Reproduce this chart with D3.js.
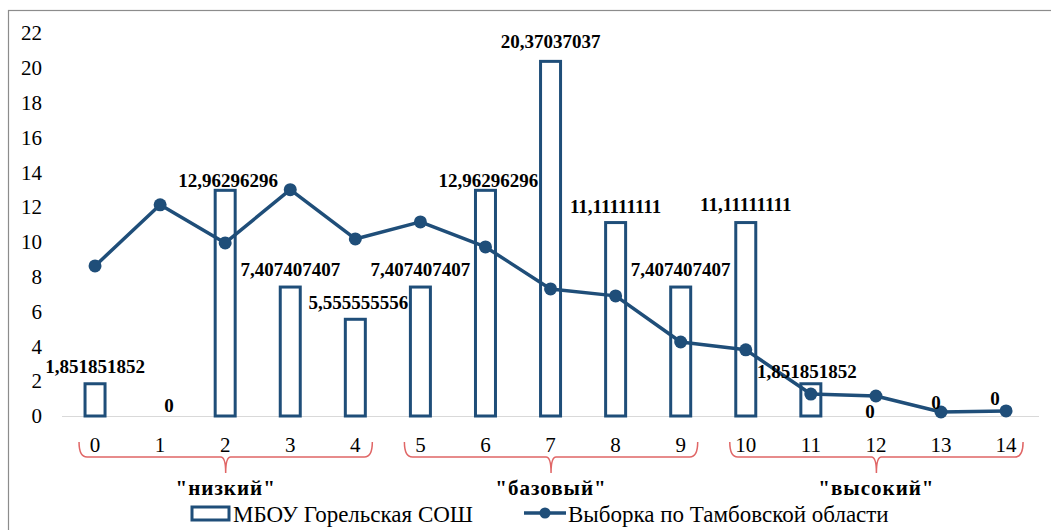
<!DOCTYPE html>
<html>
<head>
<meta charset="utf-8">
<script src="https://cdn.jsdelivr.net/npm/d3@7"></script>
<style>
  body { margin: 0; background: #fff; }
  svg { display: block; }
</style>
</head>
<body>
<svg id="chart" width="1051" height="530"></svg>
<script>
// categories and values
var categories = ["0", "1", "2", "3", "4", "5", "6", "7", "8", "9", "10", "11", "12", "13", "14"];
var schoolValues = [1.851851852, 0, 12.96296296, 7.407407407, 5.555555556, 7.407407407, 12.96296296,
    20.37037037, 11.11111111, 7.407407407, 11.11111111, 1.851851852, 0, 0, 0];
var regionValues = [8.62, 12.13, 9.94, 13.0, 10.17, 11.15, 9.71, 7.3, 6.9, 4.25, 3.8, 1.26, 1.15, 0.23, 0.29];
var yTicks = [0, 2, 4, 6, 8, 10, 12, 14, 16, 18, 20, 22];
var groups = [
    {name: '"низкий"', from: "0", to: "4"},
    {name: '"базовый"', from: "5", to: "9"},
    {name: '"высокий"', from: "10", to: "14"}
];
var seriesNames = ["МБОУ Горельская СОШ", "Выборка по Тамбовской области"];

// small nudges so labels sit like in the original
var labelNudge = [[0, -11], [9, -4], [3, -3], [0, -11], [3, -10], [0, -11], [3, -3], [0, -13],
    [0, -10], [0, -11], [0, -12], [-4, -6], [-6, 2], [-5, -7], [-11, -11]];

var blue = "#1f4e79";
var red = "#e06666";
var FONT = "serif";

var svg = d3.select("#chart");

// outer frame (only top/left visible)
svg.append("rect")
    .attr("x", 8.5).attr("y", 10.5)
    .attr("width", 1100).attr("height", 600)
    .attr("fill", "none")
    .attr("stroke", "#8c8c8c")
    .attr("stroke-width", 1.2);

var x = d3.scaleBand().domain(categories).range([62.5, 1038.6]).padding(0);
var y = d3.scaleLinear().domain([0, 22]).range([416, 33]);
var barW = 20;

// y axis
var yAxis = svg.append("g")
    .attr("transform", "translate(62,0)")
    .call(d3.axisLeft(y).tickValues(yTicks).tickSize(0).tickPadding(20));
yAxis.attr("font-family", FONT).attr("font-size", 21);
yAxis.select(".domain").remove();
yAxis.selectAll("text").attr("fill", "#000");

// baseline
svg.append("line")
    .attr("x1", 62).attr("x2", 1039)
    .attr("y1", y(0) + 0.5).attr("y2", y(0) + 0.5)
    .attr("stroke", "#d9d9d9")
    .attr("stroke-width", 1.2);

// x axis
var xAxis = svg.append("g")
    .attr("transform", "translate(0," + y(0) + ")")
    .call(d3.axisBottom(x).tickSize(0).tickPadding(21));
xAxis.attr("font-family", FONT).attr("font-size", 21);
xAxis.select(".domain").remove();
xAxis.selectAll("text").attr("fill", "#000");

// bars
svg.append("g").selectAll("rect")
    .data(schoolValues)
    .enter()
    .append("rect")
    .attr("x", function (d, i) { return x(categories[i]) + x.bandwidth() / 2 - barW / 2; })
    .attr("y", function (d) { return y(d); })
    .attr("width", barW)
    .attr("height", function (d) { return y(0) - y(d); })
    .attr("fill", "#fff")
    .attr("stroke", blue)
    .attr("stroke-width", 3)
    .style("display", function (d) { return d > 0 ? null : "none"; });

// line
var line = d3.line()
    .x(function (d, i) { return x(categories[i]) + x.bandwidth() / 2; })
    .y(function (d) { return y(d); });

svg.append("path")
    .datum(regionValues)
    .attr("d", line)
    .attr("fill", "none")
    .attr("stroke", blue)
    .attr("stroke-width", 3.5)
    .attr("stroke-linejoin", "round");

svg.append("g").selectAll("circle")
    .data(regionValues)
    .enter()
    .append("circle")
    .attr("cx", function (d, i) { return x(categories[i]) + x.bandwidth() / 2; })
    .attr("cy", function (d) { return y(d); })
    .attr("r", 6.5)
    .attr("fill", blue);

// data labels of the bars
svg.append("g").selectAll("text")
    .data(schoolValues)
    .enter()
    .append("text")
    .attr("x", function (d, i) { return x(categories[i]) + x.bandwidth() / 2 + labelNudge[i][0]; })
    .attr("y", function (d, i) { return y(d) + labelNudge[i][1]; })
    .attr("text-anchor", "middle")
    .attr("font-family", FONT)
    .attr("font-size", 19)
    .attr("font-weight", "bold")
    .text(function (d) {
        return d === 0 ? "0" : String(d).replace(".", ",");
    });

// braces under the groups
var braceTop = 442, braceMid = 457, braceTip = 473;
groups.forEach(function (g) {
    var x1 = x(g.from) + x.bandwidth() / 2 - 16;
    var x2 = x(g.to) + x.bandwidth() / 2 + 17;
    var xm = (x1 + x2) / 2;
    var p = d3.path();
    p.moveTo(x1, braceTop);
    p.quadraticCurveTo(x1, braceMid, x1 + 8, braceMid);
    p.lineTo(xm - 5, braceMid);
    p.quadraticCurveTo(xm, braceMid, xm, braceTip);
    p.quadraticCurveTo(xm, braceMid, xm + 5, braceMid);
    p.lineTo(x2 - 8, braceMid);
    p.quadraticCurveTo(x2, braceMid, x2, braceTop);
    svg.append("path")
        .attr("d", p.toString())
        .attr("fill", "none")
        .attr("stroke", red)
        .attr("stroke-width", 1.5);

    svg.append("text")
        .attr("x", xm)
        .attr("y", 495)
        .attr("text-anchor", "middle")
        .attr("font-family", FONT)
        .attr("font-size", 21)
        .attr("font-weight", "bold")
        .attr("letter-spacing", 1)
        .text(g.name);
});

// legend
var legend = svg.append("g");
legend.append("rect")
    .attr("x", 192).attr("y", 507)
    .attr("width", 37).attr("height", 13)
    .attr("fill", "#fff")
    .attr("stroke", blue)
    .attr("stroke-width", 3);
legend.append("text")
    .attr("x", 233).attr("y", 522)
    .attr("font-family", FONT)
    .attr("font-size", 23)
    .text(seriesNames[0]);
legend.append("line")
    .attr("x1", 524).attr("x2", 566)
    .attr("y1", 513).attr("y2", 513)
    .attr("stroke", blue)
    .attr("stroke-width", 3.5);
legend.append("circle")
    .attr("cx", 545).attr("cy", 513).attr("r", 5.5)
    .attr("fill", blue);
legend.append("text")
    .attr("x", 568).attr("y", 522)
    .attr("font-family", FONT)
    .attr("font-size", 23)
    .text(seriesNames[1]);
</script>
</body>
</html>
